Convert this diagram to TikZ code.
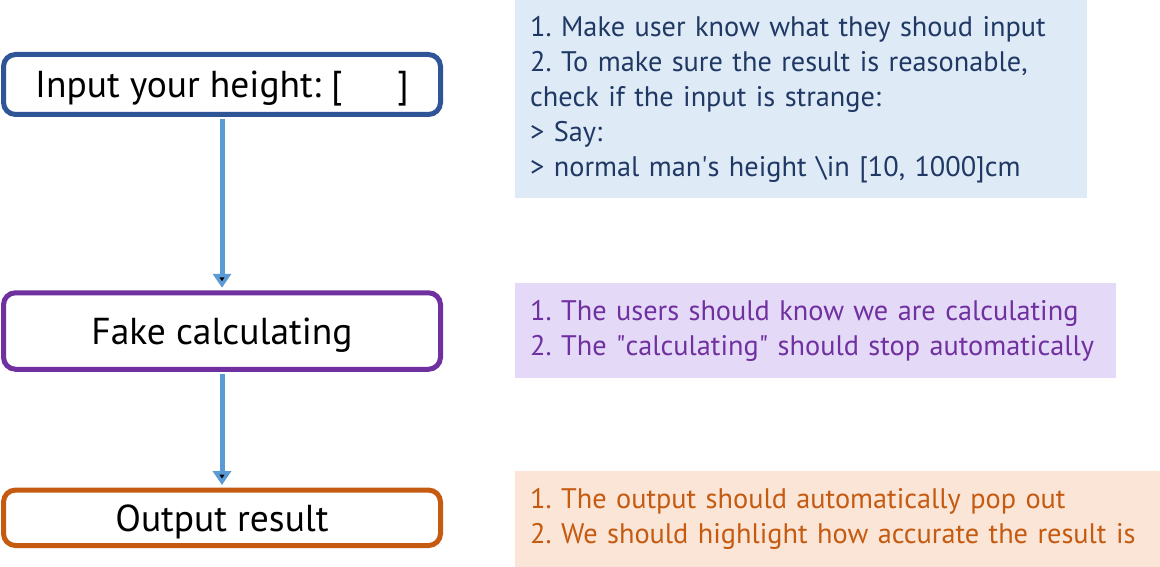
\documentclass[tikz,border=0pt]{standalone}
\usepackage{fontspec}
\setmainfont{PT Sans}
\usetikzlibrary{arrows.meta}
\definecolor{inblue}{HTML}{2F5597}
\definecolor{calcpurple}{HTML}{7030A0}
\definecolor{outorange}{HTML}{C55A11}
\definecolor{flowblue}{HTML}{5B9BD5}
\definecolor{navytext}{HTML}{203864}
\definecolor{bluefill}{HTML}{DEEBF7}
\definecolor{purplefill}{HTML}{E4DAF7}
\definecolor{orangefill}{HTML}{FBE5D6}
\frenchspacing

\begin{document}
\begin{tikzpicture}[x=1pt,y=-1pt,
    stepbox/.style={draw,line width=5pt,rounded corners=12pt,fill=white,text=black,
      font=\fontsize{37.5}{44}\selectfont,minimum width=437pt,inner sep=0pt,text depth=0pt},
    notebox/.style={anchor=north west,inner xsep=15pt,inner ysep=0pt,align=left,
      font=\fontsize{28.3}{35}\selectfont},
    flow/.style={draw=flowblue,line width=5pt,-{Triangle[width=18pt,length=14pt]},
      shorten >=2.5pt,shorten <=2.5pt}]
      \useasboundingbox (0,0) rectangle (1160,567);
      \node[stepbox,draw=inblue,minimum height=60pt](input) at (222,84.5) {Input your height: [\hspace{55pt}]};
      \node[stepbox,draw=calcpurple,minimum height=76.5pt](calc) at (222,331) {Fake calculating};
      \node[stepbox,draw=outorange,minimum height=55.5pt](output) at (222,517.8) {Output result};
      \node[notebox,fill=bluefill,text=navytext,text width=542pt,minimum height=198pt](inputnote) at (515,0)
        {1. Make user know what they shoud input\\
         \makebox[542pt][s]{2. To make sure the result is reasonable,}\\
         check if the input is strange:\\
         > Say:\\
         > normal man\textquotesingle s height \textbackslash in [10, 1000]cm};
      \node[notebox,fill=purplefill,text=calcpurple,text width=571pt,minimum height=95pt](calcnote) at (515,283)
        {1. The users should know we are calculating\\
         2. The \textquotedbl calculating\textquotedbl\ should stop automatically};
      \node[notebox,fill=orangefill,text=outorange,text width=615pt,minimum height=96pt](outnote) at (515,471)
        {1. The output should automatically pop out\\
         2. We should highlight how accurate the result is};
      \path[flow] (input) edge (calc);
      \path[flow] (calc) edge (output);
    \end{tikzpicture}
\end{document}
